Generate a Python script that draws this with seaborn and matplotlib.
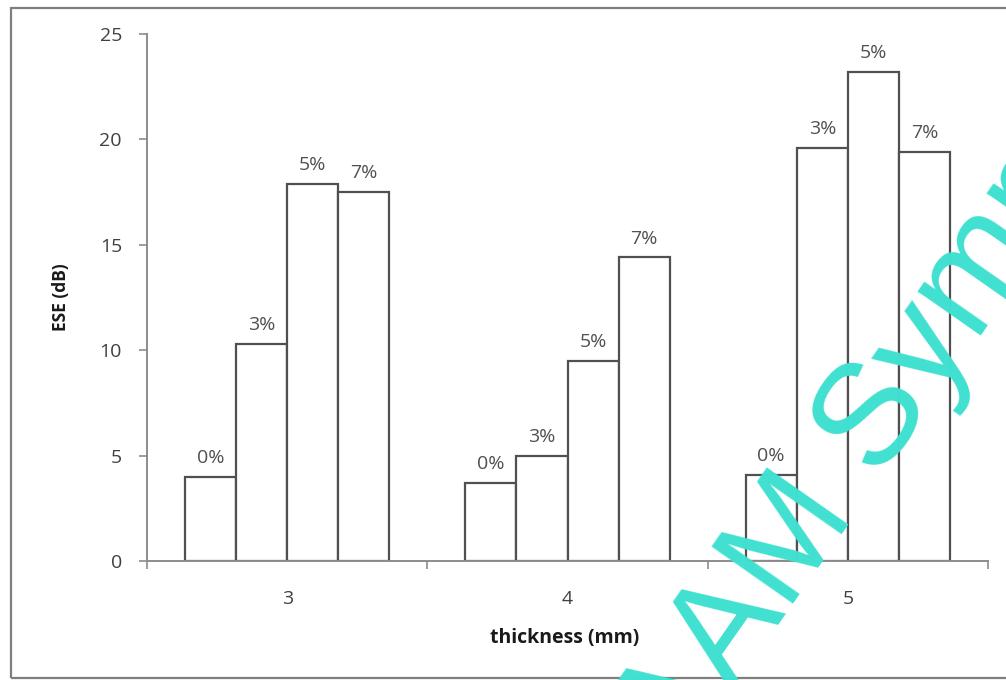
import numpy as np
import pandas as pd
import matplotlib
matplotlib.use("Agg")
import matplotlib.pyplot as plt
import seaborn as sns
from matplotlib.patches import Rectangle
from matplotlib.ticker import FixedLocator

# Shielding effectiveness by sample thickness and filler loading
thickness = ["3", "4", "5"]
loadings = ["0%", "3%", "5%", "7%"]
ese_0 = [4.0, 3.7, 4.1]
ese_3 = [10.3, 5.0, 19.6]
ese_5 = [17.9, 9.5, 23.2]
ese_7 = [17.5, 14.4, 19.4]
y_ticks = [0, 5, 10, 15, 20, 25]

df = pd.DataFrame({
    "thickness": thickness * 4,
    "loading": np.repeat(loadings, len(thickness)),
    "ese": ese_0 + ese_3 + ese_5 + ese_7,
})

sns.set_theme(style="white")
plt.rcParams["font.family"] = ["Open Sans", "DejaVu Sans"]

W, H = 1006, 680
fig = plt.figure(figsize=(W / 100, H / 100), dpi=100)
fig.patch.set_facecolor("white")
ax = fig.add_axes([147 / W, 1 - 561 / H, 841 / W, 527 / H])

sns.barplot(
    data=df, x="thickness", y="ese", hue="loading",
    order=thickness, hue_order=loadings,
    palette={l: "white" for l in loadings},
    edgecolor="#505050", linewidth=1.6, width=0.73, gap=0,
    saturation=1, errorbar=None, legend=False, ax=ax,
)

for cont, lab in zip(ax.containers, loadings):
    ax.bar_label(cont, labels=[lab] * len(cont), padding=7,
                 fontsize=14, color="#505050")

ax.set_xlim(-0.5, 2.5)
ax.set_ylim(0, 25)
ax.set_yticks(y_ticks)
ax.set_facecolor("white")

for side in ("top", "right"):
    ax.spines[side].set_visible(False)
for side in ("left", "bottom"):
    ax.spines[side].set_color("#8c8c8c")
    ax.spines[side].set_linewidth(1.4)

ax.tick_params(axis="y", which="major", left=True, length=6, width=1.2,
               color="#8c8c8c", pad=12, labelsize=14, labelcolor="#404040")
ax.tick_params(axis="x", which="major", bottom=False, length=0, pad=21,
               labelsize=14, labelcolor="#404040")
ax.xaxis.set_minor_locator(FixedLocator([-0.5, 0.5, 1.5, 2.5]))
ax.tick_params(axis="x", which="minor", bottom=True, length=6, width=1.2,
               color="#8c8c8c")

ax.set_xlabel("thickness (mm)", fontsize=14, fontweight="bold", color="#1a1a1a")
ax.set_ylabel("ESE (dB)", fontsize=12.5, fontweight="bold", color="#1a1a1a")
ax.xaxis.set_label_coords(0.497, -0.128)
ax.yaxis.set_label_coords(-0.092, 0.501)

# outer frame
fig.add_artist(Rectangle((11 / W, 2 / H), 1.0, 670 / H, transform=fig.transFigure,
                         fill=False, edgecolor="#7f7f7f", linewidth=1.6))

# watermark
fig.text(676 / W, 1 - 771 / H, "AAM Symp", rotation=55, rotation_mode="anchor",
         ha="left", va="baseline", fontsize=104, color="#40E0D0",
         family="Liberation Sans", zorder=10)

fig.savefig("out.png", dpi=100)
